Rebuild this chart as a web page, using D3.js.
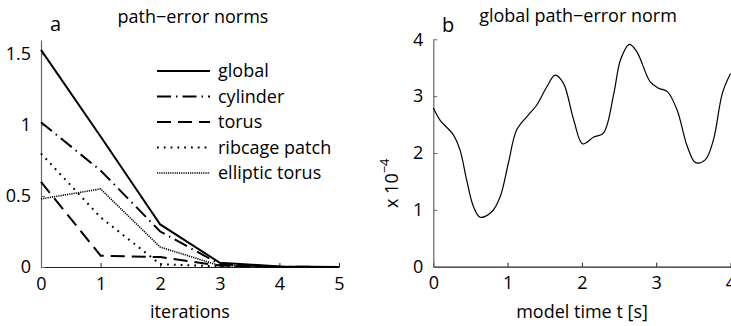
<!DOCTYPE html>
<html>
<head>
<meta charset="utf-8">
<script src="https://cdn.jsdelivr.net/npm/d3@7"></script>
<style>
  body { margin: 0; background: #fff; }
  svg { display: block; font-family: "Open Sans", "Noto Sans", sans-serif; }
</style>
</head>
<body>
<div id="chart"></div>
<script>
// panel a: path-error norms per iteration
const iterations = [0, 1, 2, 3, 4, 5];
const globalNorm = [1.53, 0.92, 0.30, 0.03, 0.004, 0];
const cylinderNorm = [1.02, 0.68, 0.25, 0.02, 0.002, 0];
const torusNorm = [0.60, 0.08, 0.07, 0.01, 0, 0];
const ribcageNorm = [0.80, 0.35, 0.02, 0.004, 0, 0];
const ellipticNorm = [0.48, 0.55, 0.14, 0.01, 0, 0];
const seriesNames = ['global', 'cylinder', 'torus', 'ribcage patch', 'elliptic torus'];
const aTicksX = [0, 1, 2, 3, 4, 5];
const aTicksY = [0, 0.5, 1, 1.5];

// panel b: global path-error norm over model time (x 10^-4)
const timeS = [0, 0.09, 0.27, 0.36, 0.45, 0.54, 0.63, 0.79, 0.90, 1.01, 1.12, 1.26, 1.39, 1.53, 1.64,
  1.75, 1.89, 2.01, 2.16, 2.29, 2.43, 2.52, 2.64, 2.74, 2.92, 3.03, 3.15, 3.28, 3.42, 3.53, 3.66, 3.77, 3.89, 4.0];
const globalErr = [2.79, 2.58, 2.32, 2.05, 1.52, 1.06, 0.87, 0.97, 1.23, 1.82, 2.40, 2.64, 2.84, 3.17, 3.37,
  3.23, 2.58, 2.16, 2.28, 2.35, 3.05, 3.64, 3.91, 3.78, 3.25, 3.14, 3.08, 2.76, 2.11, 1.83, 1.88, 2.23, 3.05, 3.40];
const bTicksX = [0, 1, 2, 3, 4];
const bTicksY = [0, 1, 2, 3, 4];

const W = 731, H = 326;
const svg = d3.select('#chart').append('svg').attr('width', W).attr('height', H);

const lineStyles = [
  { width: 2, dash: null },
  { width: 2, dash: '14,5,1.5,5' },
  { width: 2, dash: '14,7' },
  { width: 2, dash: '1.8,5' },
  { width: 1.6, dash: '1.2,1' }
];

function styleAxis(g, color) {
  g.select('.domain').attr('stroke', color).attr('stroke-width', 1.2);
  g.selectAll('.tick line').attr('stroke', color);
  g.selectAll('.tick text').attr('fill', '#000').attr('font-size', 18)
    .attr('font-family', '"Open Sans", "Noto Sans", sans-serif');
}

// ---------- panel a ----------
const xa = d3.scaleLinear().domain([0, 5]).range([41, 339]);
const ya = d3.scaleLinear().domain([0, 1.6]).range([267, 40]);

const gaX = svg.append('g').attr('transform', `translate(0,${ya(0)})`)
  .call(d3.axisBottom(xa).tickValues(aTicksX).tickFormat(d3.format('d'))
    .tickSizeInner(-4).tickSizeOuter(0).tickPadding(10));
styleAxis(gaX, '#222');
const gaY = svg.append('g').attr('transform', `translate(${xa(0)},0)`)
  .call(d3.axisLeft(ya).tickValues(aTicksY).tickFormat(d => d)
    .tickSizeInner(-4).tickSizeOuter(0).tickPadding(10));
styleAxis(gaY, '#666');

const aSeries = [globalNorm, cylinderNorm, torusNorm, ribcageNorm, ellipticNorm];
const lineA = d3.line().x((d, i) => xa(iterations[i])).y(d => ya(d));
aSeries.forEach((vals, k) => {
  svg.append('path').datum(vals)
    .attr('fill', 'none').attr('stroke', '#000')
    .attr('stroke-width', lineStyles[k].width)
    .attr('stroke-dasharray', lineStyles[k].dash)
    .attr('d', lineA);
});

// legend
const legend = svg.append('g').attr('transform', 'translate(157,71)');
seriesNames.forEach((name, k) => {
  const row = legend.append('g').attr('transform', `translate(0,${k * 25.5})`);
  row.append('line').attr('x1', 0).attr('x2', 53).attr('y1', 0).attr('y2', 0)
    .attr('stroke', '#000').attr('stroke-width', lineStyles[k].width)
    .attr('stroke-dasharray', lineStyles[k].dash);
  row.append('text').attr('x', 61).attr('y', 6).attr('font-size', 18).text(name);
});

svg.append('text').attr('x', 193).attr('y', 23).attr('text-anchor', 'middle')
  .attr('font-size', 18).text('path\u2212error norms');
svg.append('text').attr('x', 50).attr('y', 31).attr('font-size', 20).text('a');
svg.append('text').attr('x', 190).attr('y', 318).attr('text-anchor', 'middle')
  .attr('font-size', 18).text('iterations');

// ---------- panel b ----------
const xb = d3.scaleLinear().domain([0, 4]).range([433.3, 730.5]);
const yb = d3.scaleLinear().domain([0, 4]).range([266.7, 39.3]);

const gbX = svg.append('g').attr('transform', `translate(0,${yb(0)})`)
  .call(d3.axisBottom(xb).tickValues(bTicksX).tickFormat(d3.format('d'))
    .tickSizeInner(-4).tickSizeOuter(0).tickPadding(10));
styleAxis(gbX, '#222');
const gbY = svg.append('g').attr('transform', `translate(${xb(0)},0)`)
  .call(d3.axisLeft(yb).tickValues(bTicksY).tickFormat(d3.format('d'))
    .tickSizeInner(-4).tickSizeOuter(0).tickPadding(10));
styleAxis(gbY, '#666');

const lineB = d3.line().x((d, i) => xb(timeS[i])).y(d => yb(d)).curve(d3.curveCatmullRom.alpha(0.5));
svg.append('path').datum(globalErr)
  .attr('fill', 'none').attr('stroke', '#000').attr('stroke-width', 1.2)
  .attr('d', lineB);

svg.append('text').attr('x', 578).attr('y', 22).attr('text-anchor', 'middle')
  .attr('font-size', 18).text('global path\u2212error norm');
svg.append('text').attr('x', 442).attr('y', 32).attr('font-size', 20).text('b');
svg.append('text').attr('x', 582).attr('y', 318).attr('text-anchor', 'middle')
  .attr('font-size', 18).text('model time t [s]');

const yLab = svg.append('text').attr('transform', 'translate(398,208) rotate(-90)')
  .attr('font-size', 18);
yLab.append('tspan').text('x 10');
yLab.append('tspan').attr('dy', -9).attr('font-size', 13).text('\u22124');
</script>
</body>
</html>
